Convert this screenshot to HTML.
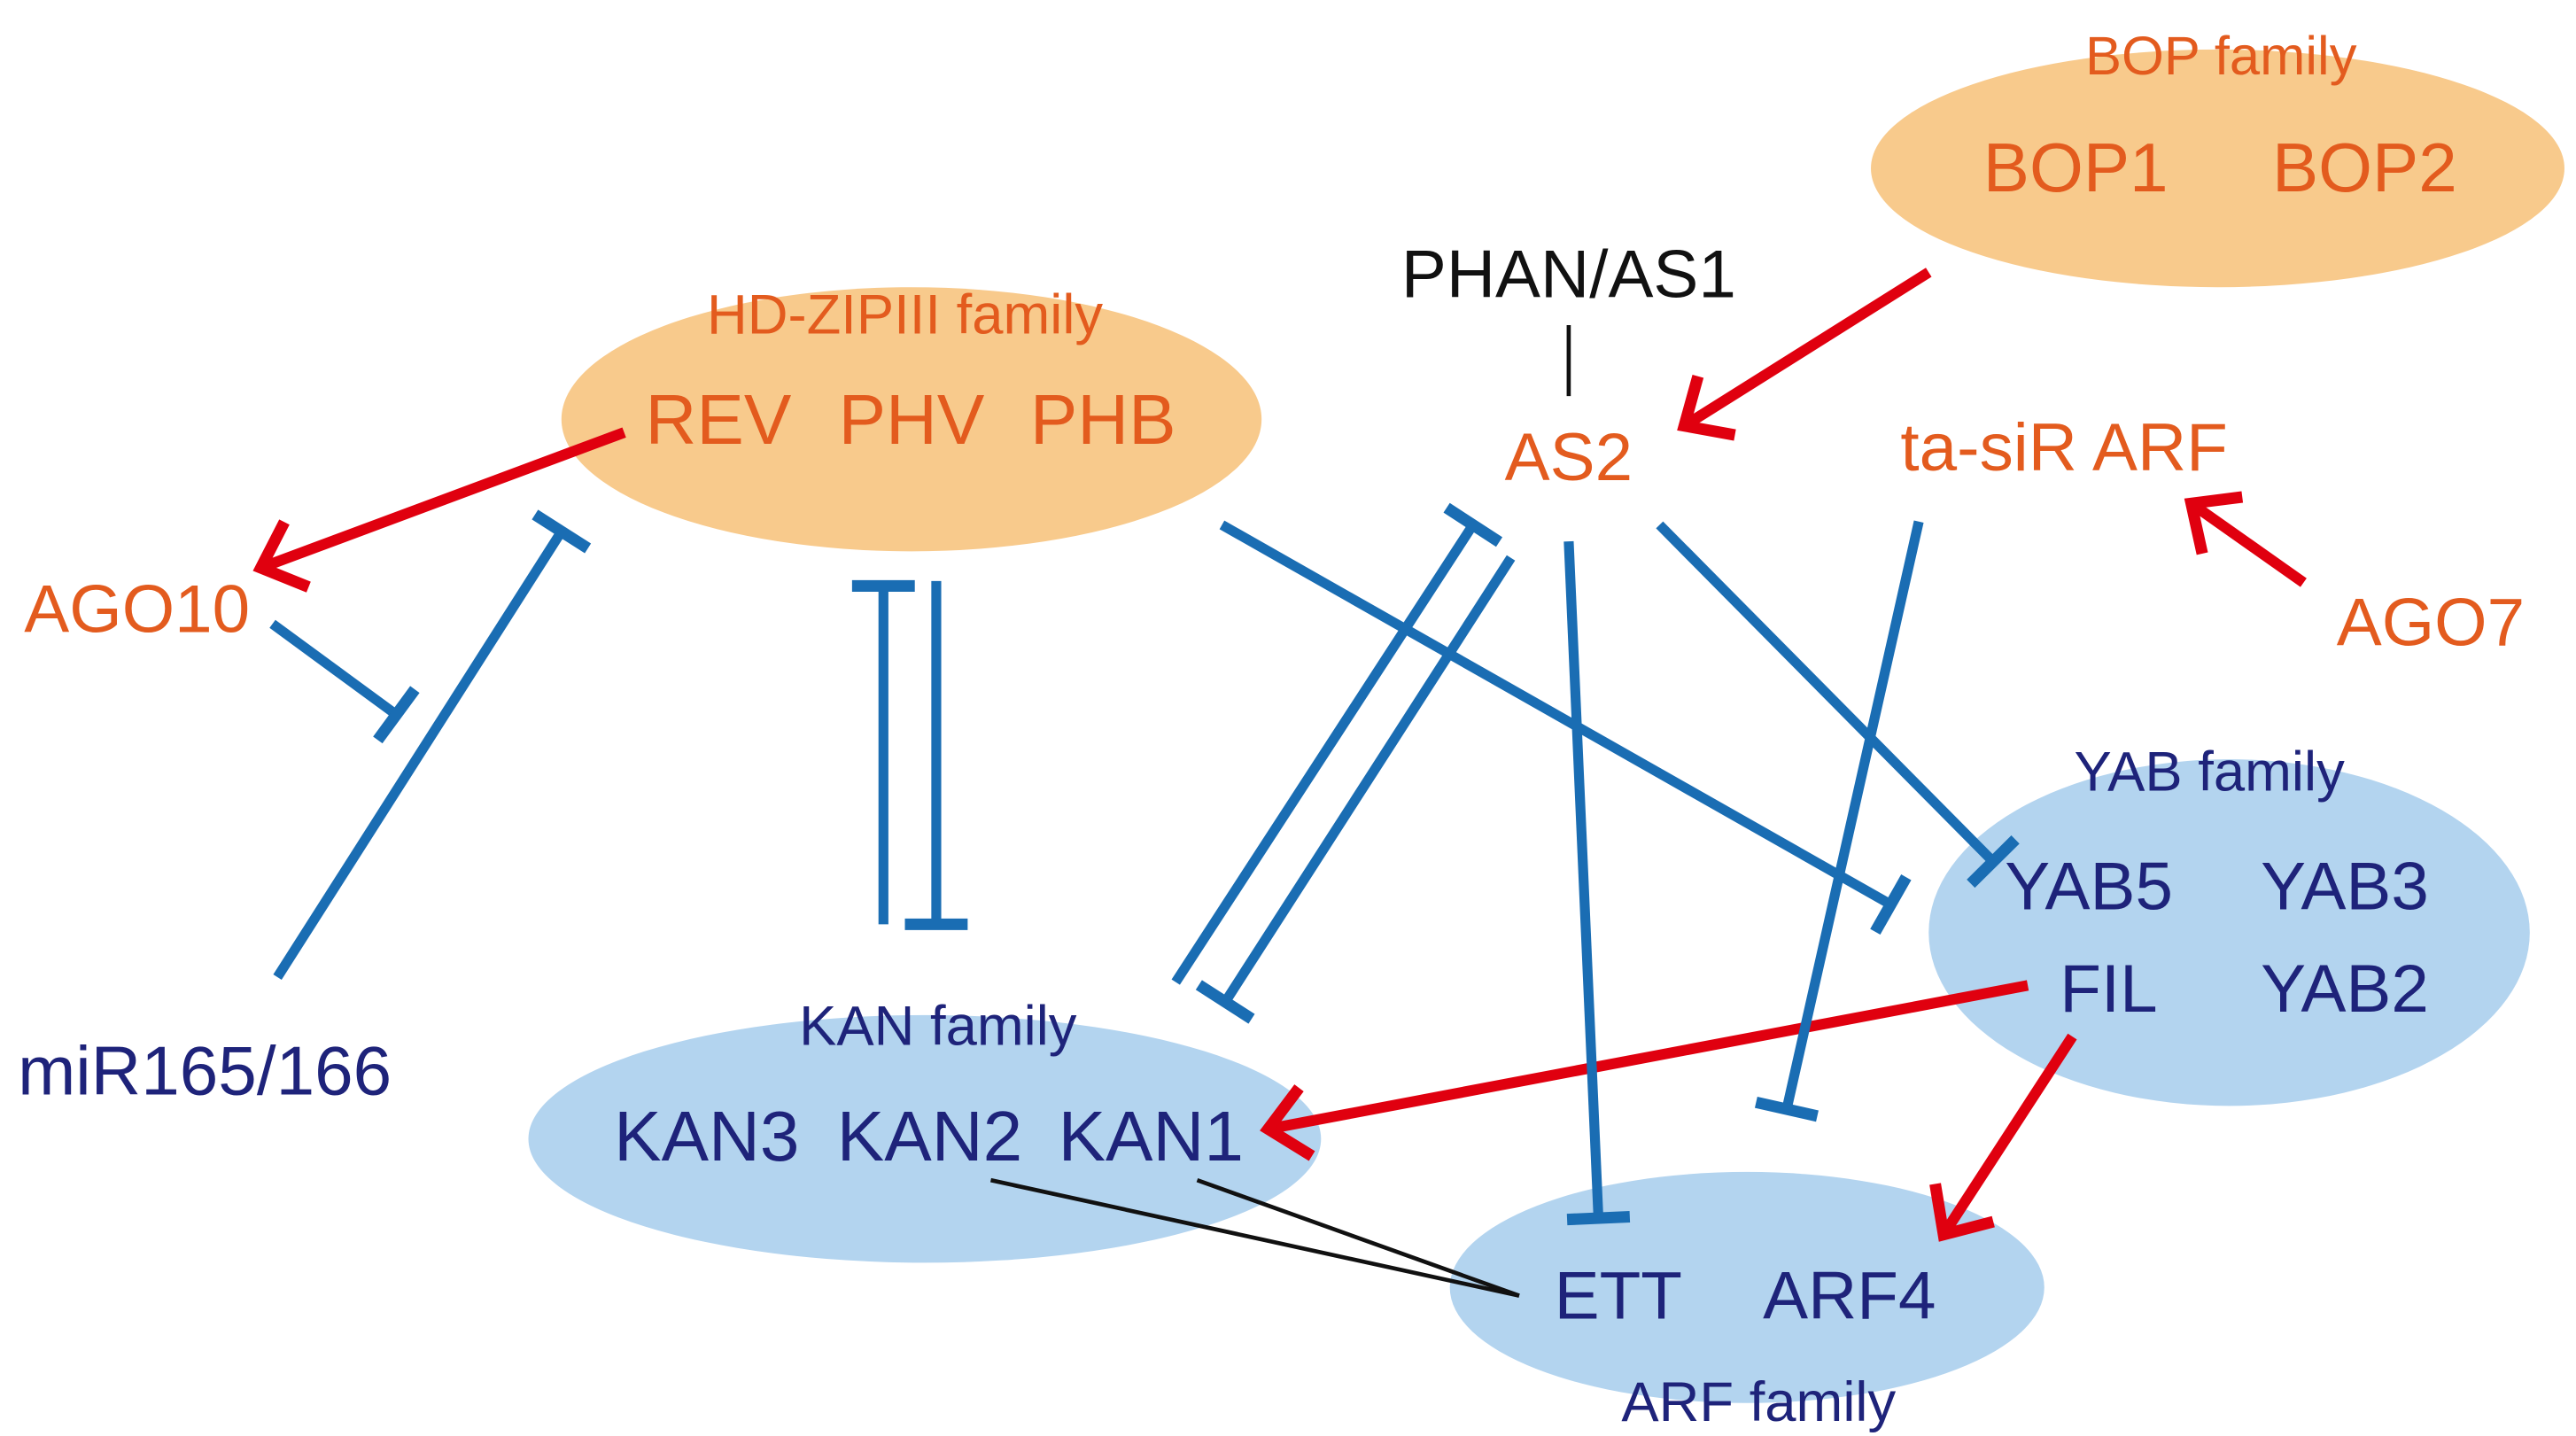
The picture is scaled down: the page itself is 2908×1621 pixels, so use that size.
<!DOCTYPE html>
<html><head><meta charset="utf-8"><style>
html,body{margin:0;padding:0;background:#fff;}
svg{display:block;}
text{font-family:"Liberation Sans",Arial,sans-serif;text-anchor:middle;}
.o{fill:#e35b1e}.n{fill:#1e237a}.k{fill:#111}
</style></head><body>
<svg width="2908" height="1621" viewBox="0 0 1560 870" preserveAspectRatio="none" xmlns="http://www.w3.org/2000/svg">
<defs>
<marker id="ar" markerUnits="userSpaceOnUse" markerWidth="70" markerHeight="70" refX="35" refY="35" orient="auto">
<path d="M12,14 L35,35 L12,56" fill="none" stroke="#e0000f" stroke-width="7"/>
</marker>
<marker id="bar" markerUnits="userSpaceOnUse" markerWidth="60" markerHeight="60" refX="30" refY="30" orient="auto">
<path d="M30,11 L30,49" fill="none" stroke="#1a6db3" stroke-width="7"/>
</marker>
</defs>
<rect width="1560" height="870" fill="#fff"/>
<ellipse cx="1343" cy="102" rx="210" ry="72" fill="#f8ca8c"/>
<ellipse cx="552" cy="254" rx="212" ry="80" fill="#f8ca8c"/>
<ellipse cx="560" cy="690" rx="240" ry="75" fill="#b3d4ef"/>
<ellipse cx="1350" cy="565" rx="182" ry="105" fill="#b3d4ef"/>
<ellipse cx="1058" cy="780" rx="180" ry="70" fill="#b3d4ef"/>

<g stroke="#e0000f" stroke-width="6.5" fill="none">
<line x1="378" y1="262" x2="158" y2="344" marker-end="url(#ar)"/>
<line x1="1168" y1="165" x2="1020" y2="258" marker-end="url(#ar)"/>
<line x1="1395" y1="353" x2="1327" y2="305" marker-end="url(#ar)"/>
<line x1="1228" y1="597" x2="768" y2="684" marker-end="url(#ar)"/>
<line x1="1255" y1="628" x2="1177" y2="748" marker-end="url(#ar)"/>
</g>
<g stroke="#1a6db3" stroke-width="6" fill="none">
<line x1="165" y1="378" x2="240" y2="433" marker-end="url(#bar)"/>
<line x1="168" y1="592" x2="340" y2="322" marker-end="url(#bar)"/>
<line x1="535" y1="560" x2="535" y2="355" marker-end="url(#bar)"/>
<line x1="567" y1="352" x2="567" y2="560" marker-end="url(#bar)"/>
<line x1="740" y1="318" x2="1145" y2="548" marker-end="url(#bar)"/>
<line x1="712" y1="595" x2="892" y2="318" marker-end="url(#bar)"/>
<line x1="915" y1="338" x2="742" y2="607" marker-end="url(#bar)"/>
<line x1="950" y1="328" x2="968" y2="738" marker-end="url(#bar)"/>
<line x1="1005" y1="318" x2="1207" y2="522" marker-end="url(#bar)"/>
<line x1="1162" y1="316" x2="1082" y2="672" marker-end="url(#bar)"/>
</g>
<g stroke="#111" stroke-width="2.5">
<line x1="950" y1="197" x2="950" y2="240"/>
<line x1="600" y1="715" x2="920" y2="785"/>
<line x1="725" y1="715" x2="920" y2="785"/>
</g>

<text x="1345" y="45" font-size="33" class="o">BOP family</text>
<text x="1257" y="116" font-size="42" class="o">BOP1</text>
<text x="1432" y="116" font-size="42" class="o">BOP2</text>
<text x="548" y="202" font-size="34" class="o">HD-ZIPIII family</text>
<text x="435" y="269" font-size="43" class="o">REV</text>
<text x="552" y="269" font-size="43" class="o">PHV</text>
<text x="668" y="269" font-size="43" class="o">PHB</text>
<text x="950" y="180" font-size="41" class="k">PHAN/AS1</text>
<text x="950" y="291" font-size="41" class="o">AS2</text>
<text x="1250" y="285" font-size="41" class="o">ta-siR ARF</text>
<text x="1472" y="391" font-size="41" class="o">AGO7</text>
<text x="83" y="383" font-size="41" class="o">AGO10</text>
<text x="124" y="663" font-size="42" class="n">miR165/166</text>
<text x="568" y="633" font-size="34" class="n">KAN family</text>
<text x="428" y="703" font-size="43" class="n">KAN3</text>
<text x="563" y="703" font-size="43" class="n">KAN2</text>
<text x="697" y="703" font-size="43" class="n">KAN1</text>
<text x="1338" y="479" font-size="34" class="n">YAB family</text>
<text x="1265" y="551" font-size="41" class="n">YAB5</text>
<text x="1420" y="551" font-size="41" class="n">YAB3</text>
<text x="1277" y="613" font-size="41" class="n">FIL</text>
<text x="1420" y="613" font-size="41" class="n">YAB2</text>
<text x="980" y="799" font-size="41" class="n">ETT</text>
<text x="1120" y="799" font-size="41" class="n">ARF4</text>
<text x="1065" y="861" font-size="34" class="n">ARF family</text>
</svg>
</body></html>
